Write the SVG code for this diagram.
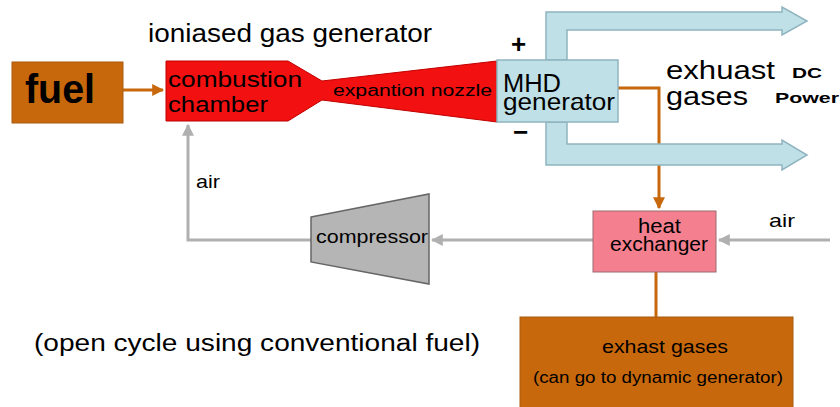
<svg xmlns="http://www.w3.org/2000/svg" width="840" height="407" viewBox="0 0 840 407">
<defs>
<style>
text{font-family:"Liberation Sans",Arial,sans-serif;fill:#000}
.orange{fill:#c8680c;stroke:#a85a10;stroke-width:1}
.oline{fill:none;stroke:#c8680c;stroke-width:3}
.gline{fill:none;stroke:#b0b0b0;stroke-width:3}
.blue{fill:#bfe0e6;stroke:#8fb4bf;stroke-width:1.5}
</style>
<marker id="ao" viewBox="0 0 10 10" refX="9" refY="5" markerWidth="4" markerHeight="4" orient="auto"><path d="M0,0L10,5L0,10z" fill="#c8680c"/></marker>
<marker id="ag" viewBox="0 0 10 10" refX="9" refY="5" markerWidth="4" markerHeight="4" orient="auto"><path d="M0,0L10,5L0,10z" fill="#b0b0b0"/></marker>
</defs>
<rect width="840" height="407" fill="#fff"/>
<g id="connectors">
<path class="oline" d="M123,90H163" marker-end="url(#ao)"/>
<path class="oline" d="M618,88H659V208" marker-end="url(#ao)"/>
<path class="oline" d="M656,272V318"/>
<path class="gline" d="M830,240H719" marker-end="url(#ag)"/>
<path class="gline" d="M593,240H432" marker-end="url(#ag)"/>
<path class="gline" d="M311,240H188V125" marker-end="url(#ag)"/>
<path class="blue" d="M546,60V12H782V7L807,21L782,35V30H567V60Z"/>
<path class="blue" d="M546,122V165H782V170L807,155L782,140V144H567V122Z"/>
</g>
<g id="fuel">
<rect class="orange" x="12" y="62" width="111" height="61"/>
<text x="25" y="103" font-size="40" font-weight="bold" textLength="70" lengthAdjust="spacingAndGlyphs">fuel</text>
</g>
<g id="title">
<text x="148" y="42" font-size="25" textLength="284" lengthAdjust="spacingAndGlyphs">ioniased gas generator</text>
</g>
<g id="combustion-chamber">
<path d="M166,61H288L322,81L497,61V122L322,100L288,121H166Z" fill="#f21010" stroke="#c00000" stroke-width="1"/>
<text x="168" y="87" font-size="22" fill="#222" textLength="134" lengthAdjust="spacingAndGlyphs">combustion</text>
<text x="168" y="112" font-size="22" fill="#222" textLength="100" lengthAdjust="spacingAndGlyphs">chamber</text>
<text x="333" y="96" font-size="16" fill="#222" textLength="159" lengthAdjust="spacingAndGlyphs">expantion nozzle</text>
</g>
<g id="mhd-generator">
<rect class="blue" x="497" y="60" width="121" height="62" stroke="#7f9fa8"/>
<text x="503" y="92" font-size="26" textLength="58" lengthAdjust="spacingAndGlyphs">MHD</text>
<text x="503" y="110" font-size="24" textLength="112" lengthAdjust="spacingAndGlyphs">generator</text>
<text x="511" y="53" font-size="26" font-weight="bold">+</text>
<text x="513" y="141" font-size="26" font-weight="bold">−</text>
</g>
<g id="exhaust-label">
<text x="666" y="79" font-size="26" textLength="109" lengthAdjust="spacingAndGlyphs">exhuast</text>
<text x="666" y="105" font-size="26" textLength="82" lengthAdjust="spacingAndGlyphs">gases</text>
<text x="792" y="78" font-size="15" font-weight="bold" textLength="30" lengthAdjust="spacingAndGlyphs">DC</text>
<text x="775" y="103" font-size="15" font-weight="bold" textLength="64" lengthAdjust="spacingAndGlyphs">Power</text>
</g>
<g id="heat-exchanger">
<rect x="593" y="211" width="123" height="61" fill="#f4808f" stroke="#9a6a70" stroke-width="1"/>
<text x="638" y="233" font-size="20" textLength="43" lengthAdjust="spacingAndGlyphs">heat</text>
<text x="610" y="251" font-size="20" textLength="98" lengthAdjust="spacingAndGlyphs">exchanger</text>
<text x="769" y="227" font-size="19" textLength="26" lengthAdjust="spacingAndGlyphs">air</text>
</g>
<g id="compressor">
<path d="M311,217L429,194V284L311,262Z" fill="#b5b5b5" stroke="#666" stroke-width="1.5"/>
<text x="316" y="243" font-size="19" textLength="112" lengthAdjust="spacingAndGlyphs">compressor</text>
<text x="196" y="188" font-size="19" textLength="24" lengthAdjust="spacingAndGlyphs">air</text>
</g>
<g id="exhaust-gases">
<rect class="orange" x="520" y="317" width="273" height="95"/>
<text x="602" y="353" font-size="19" textLength="126" lengthAdjust="spacingAndGlyphs">exhast gases</text>
<text x="533" y="383" font-size="16" textLength="250" lengthAdjust="spacingAndGlyphs">(can go to dynamic generator)</text>
</g>
<text x="34" y="351" font-size="23" textLength="446" lengthAdjust="spacingAndGlyphs">(open cycle using conventional fuel)</text>
</svg>
